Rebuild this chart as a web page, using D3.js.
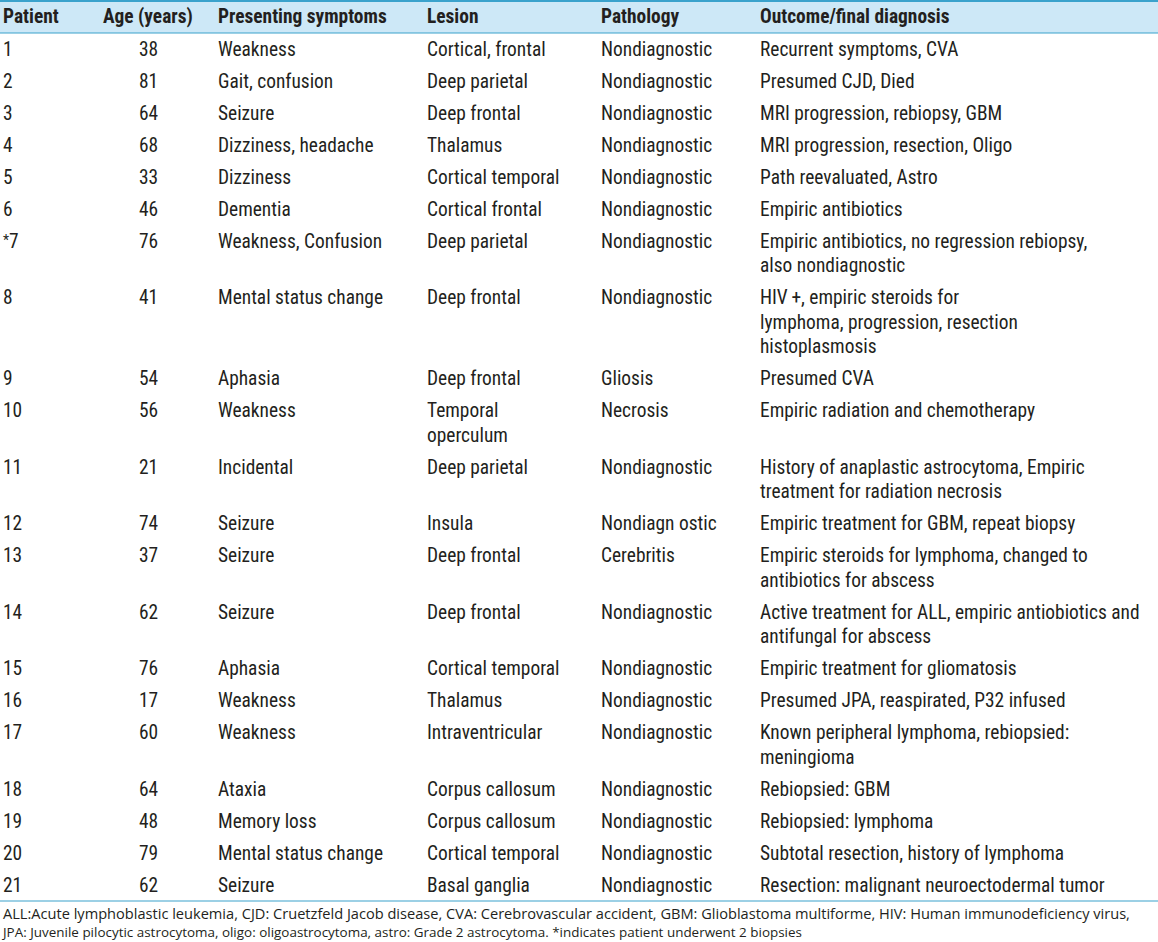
<!DOCTYPE html>
<html>
<head>
<meta charset="utf-8">
<script src="https://cdn.jsdelivr.net/npm/d3@7"></script>
<style>
  body { margin: 0; background: #fff; }
  svg text { fill: #231f20; }
</style>
</head>
<body>
<script>
var headers = ["Patient", "Age (years)", "Presenting symptoms", "Lesion", "Pathology", "Outcome/final diagnosis"];

var patients = ["1", "2", "3", "4", "5", "6", "*7", "8", "9", "10", "11", "12", "13", "14", "15", "16", "17", "18", "19", "20", "21"];

var ages = [38, 81, 64, 68, 33, 46, 76, 41, 54, 56, 21, 74, 37, 62, 76, 17, 60, 64, 48, 79, 62];

var symptoms = ["Weakness", "Gait, confusion", "Seizure", "Dizziness, headache", "Dizziness", "Dementia",
  "Weakness, Confusion", "Mental status change", "Aphasia", "Weakness", "Incidental", "Seizure", "Seizure",
  "Seizure", "Aphasia", "Weakness", "Weakness", "Ataxia", "Memory loss", "Mental status change", "Seizure"];

var lesions = [["Cortical, frontal"], ["Deep parietal"], ["Deep frontal"], ["Thalamus"], ["Cortical temporal"],
  ["Cortical frontal"], ["Deep parietal"], ["Deep frontal"], ["Deep frontal"], ["Temporal", "operculum"],
  ["Deep parietal"], ["Insula"], ["Deep frontal"], ["Deep frontal"], ["Cortical temporal"], ["Thalamus"],
  ["Intraventricular"], ["Corpus callosum"], ["Corpus callosum"], ["Cortical temporal"], ["Basal ganglia"]];

var pathology = ["Nondiagnostic", "Nondiagnostic", "Nondiagnostic", "Nondiagnostic", "Nondiagnostic", "Nondiagnostic",
  "Nondiagnostic", "Nondiagnostic", "Gliosis", "Necrosis", "Nondiagnostic", "Nondiagn ostic", "Cerebritis",
  "Nondiagnostic", "Nondiagnostic", "Nondiagnostic", "Nondiagnostic", "Nondiagnostic", "Nondiagnostic",
  "Nondiagnostic", "Nondiagnostic"];

var outcomes = [
  ["Recurrent symptoms, CVA"],
  ["Presumed CJD, Died"],
  ["MRI progression, rebiopsy, GBM"],
  ["MRI progression, resection, Oligo"],
  ["Path reevaluated, Astro"],
  ["Empiric antibiotics"],
  ["Empiric antibiotics, no regression rebiopsy,", "also nondiagnostic"],
  ["HIV\u2009+, empiric steroids for", "lymphoma, progression, resection", "histoplasmosis"],
  ["Presumed CVA"],
  ["Empiric radiation and chemotherapy"],
  ["History of anaplastic astrocytoma, Empiric", "treatment for radiation necrosis"],
  ["Empiric treatment for GBM, repeat biopsy"],
  ["Empiric steroids for lymphoma, changed to", "antibiotics for abscess"],
  ["Active treatment for ALL, empiric antiobiotics and", "antifungal for abscess"],
  ["Empiric treatment for gliomatosis"],
  ["Presumed JPA, reaspirated, P32 infused"],
  ["Known peripheral lymphoma, rebiopsied:", "meningioma"],
  ["Rebiopsied: GBM"],
  ["Rebiopsied: lymphoma"],
  ["Subtotal resection, history of lymphoma"],
  ["Resection: malignant neuroectodermal tumor"]
];

var footnotes = [
  "ALL:Acute lymphoblastic leukemia, CJD: Cruetzfeld Jacob disease, CVA: Cerebrovascular accident, GBM: Glioblastoma multiforme, HIV: Human immunodeficiency virus,",
  "JPA: Juvenile pilocytic astrocytoma, oligo: oligoastrocytoma, astro: Grade 2 astrocytoma. *indicates patient underwent 2 biopsies"
];

var width = 1158, height = 942;
var colX = [3, 103, 218, 427, 601, 760];
var headH = 33, lineH = 24.5, pad = 7.5;
var font = "'Liberation Sans Narrow', 'Roboto Condensed', Roboto, sans-serif";
var fontSize = 19.4;

var svg = d3.select("body").append("svg")
    .attr("width", width)
    .attr("height", height);

// header band
svg.append("rect")
    .attr("x", 0).attr("y", 1)
    .attr("width", width).attr("height", headH - 1)
    .style("fill", "#cde8f7");

svg.append("line")
    .attr("x1", 0).attr("x2", width)
    .attr("y1", 1).attr("y2", 1)
    .style("stroke", "#3aa2cc").style("stroke-width", 2);

svg.append("line")
    .attr("x1", 0).attr("x2", width)
    .attr("y1", headH).attr("y2", headH)
    .style("stroke", "#3aa2cc").style("stroke-width", 1.2);

svg.selectAll(".head")
  .data(headers)
  .enter().append("text")
    .attr("class", "head")
    .attr("x", function(d, i) { return colX[i]; })
    .attr("y", 23)
    .attr("font-family", font)
    .attr("font-size", fontSize + "px")
    .attr("font-weight", "bold")
    .text(function(d) { return d; });

// rows
var rows = patients.map(function(p, i) {
  var n = Math.max(lesions[i].length, outcomes[i].length);
  return {
    cells: [[p], [String(ages[i])], [symptoms[i]], lesions[i], [pathology[i]], outcomes[i]],
    n: n
  };
});

var y = headH;
rows.forEach(function(r) {
  r.top = y;
  y += pad + lineH * r.n;
});
var tableBottom = y;

var rowG = svg.selectAll(".row")
  .data(rows)
  .enter().append("g")
    .attr("class", "row")
    .attr("transform", function(d) { return "translate(0," + d.top + ")"; });

rowG.each(function(r) {
  var g = d3.select(this);
  r.cells.forEach(function(lines, ci) {
    var x = colX[ci];
    if (ci === 1) x = 139;
    g.selectAll(null)
      .data(lines)
      .enter().append("text")
        .attr("x", x)
        .attr("y", function(d, li) { return 22.5 + li * lineH; })
        .attr("font-family", font)
        .attr("font-size", fontSize + "px")
        .text(function(d) { return d; });
  });
});

// asterisk drawn raised
rowG.selectAll("text")
  .filter(function() { return this.textContent === "*7"; })
  .attr("x", 3)
  .text(null)
  .call(function(t) {
    t.append("tspan").attr("font-size", "14px").attr("dy", -3).text("*");
    t.append("tspan").attr("dy", 3).text("7");
  });

svg.append("line")
    .attr("x1", 0).attr("x2", width)
    .attr("y1", tableBottom).attr("y2", tableBottom)
    .style("stroke", "#3aa2cc").style("stroke-width", 1.2);

// footnotes
var footFont = "'Open Sans', 'Noto Sans', sans-serif";
var footTargets = [1130, 803];
svg.selectAll(".foot")
  .data(footnotes)
  .enter().append("text")
    .attr("class", "foot")
    .attr("x", 3)
    .attr("y", function(d, i) { return tableBottom + 18 + i * 18; })
    .attr("font-family", footFont)
    .attr("font-size", "13px")
    .text(function(d) { return d; })
    .each(function(d, i) {
      var w = this.getComputedTextLength();
      var target = footTargets[i] - 3;
      d3.select(this).attr("font-size", (13 * target / w).toFixed(2) + "px");
    });
</script>
</body>
</html>
